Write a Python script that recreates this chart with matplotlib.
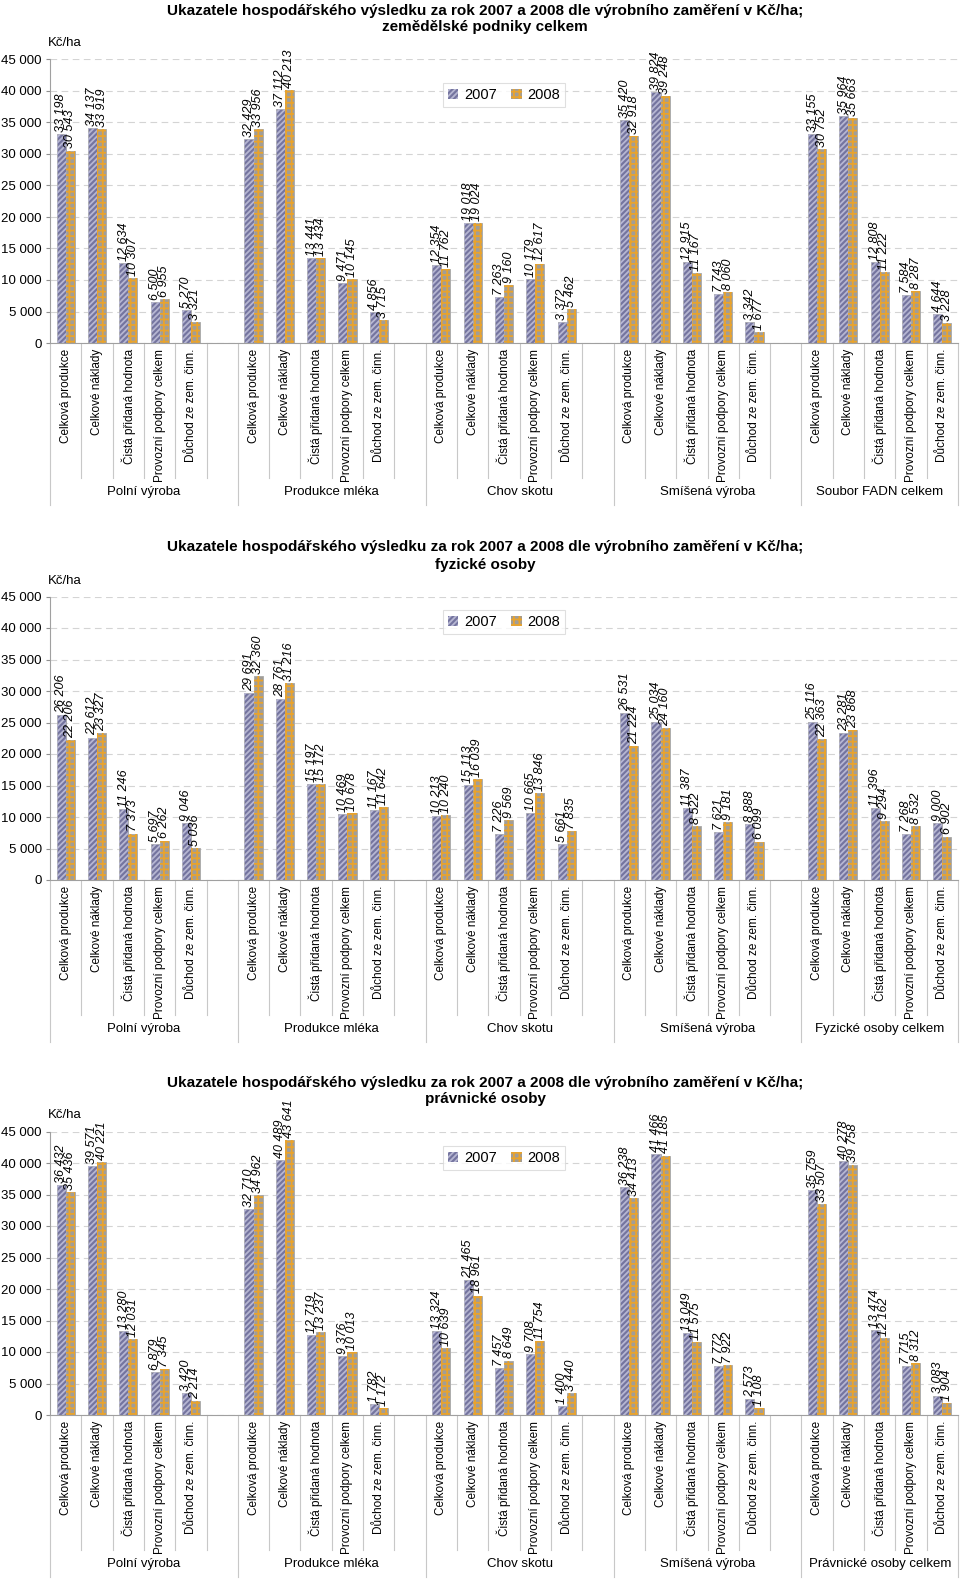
import numpy as np
import matplotlib
matplotlib.use("Agg")
import matplotlib.pyplot as plt
from matplotlib.patches import Patch
from matplotlib.ticker import FuncFormatter, MultipleLocator

plt.rcParams["font.family"] = ["Liberation Sans", "DejaVu Sans"]
plt.rcParams["hatch.linewidth"] = 1.3

# ── data ──────────────────────────────────────────────────────────────────────
kategorie = ["Celková produkce", "Celkové náklady", "Čistá přidaná hodnota",
             "Provozní podpory celkem", "Důchod ze zem. činn."]
zamereni = ["Polní výroba", "Produkce mléka", "Chov skotu", "Smíšená výroba"]

tituly = ["zemědělské podniky celkem", "fyzické osoby", "právnické osoby"]
celkem = ["Soubor FADN celkem", "Fyzické osoby celkem", "Právnické osoby celkem"]

zem_2007 = [33198, 34137, 12634, 6500, 5270,
            32429, 37112, 13441, 9471, 4856,
            12354, 19018, 7263, 10179, 3372,
            35420, 39824, 12915, 7743, 3342,
            33155, 35964, 12808, 7584, 4644]
zem_2008 = [30543, 33919, 10307, 6955, 3321,
            33956, 40213, 13434, 10145, 3715,
            11762, 19024, 9160, 12617, 5462,
            32918, 39248, 11167, 8060, 1677,
            30752, 35663, 11222, 8287, 3228]

fyz_2007 = [26206, 22612, 11246, 5697, 9046,
            29691, 28761, 15197, 10469, 11167,
            10213, 15113, 7226, 10665, 5661,
            26531, 25034, 11387, 7621, 8888,
            25116, 23281, 11396, 7268, 9000]
fyz_2008 = [22206, 23327, 7373, 6262, 5036,
            32360, 31216, 15172, 10678, 11642,
            10240, 16039, 9569, 13846, 7835,
            21224, 24160, 8522, 9181, 6099,
            22363, 23868, 9294, 8532, 6902]

prav_2007 = [36432, 39571, 13280, 6879, 3420,
             32710, 40489, 12719, 9376, 1782,
             13324, 21465, 7457, 9708, 1400,
             36238, 41466, 13049, 7772, 2573,
             35759, 40278, 13474, 7715, 3083]
prav_2008 = [35436, 40221, 12031, 7345, 2214,
             34962, 43641, 13237, 10013, 1172,
             10639, 18961, 8649, 11754, 3440,
             34413, 41185, 11575, 7922, 1108,
             33507, 39758, 12162, 8312, 1904]

panely = [(zem_2007, zem_2008), (fyz_2007, fyz_2008), (prav_2007, prav_2008)]

# ── styl ──────────────────────────────────────────────────────────────────────
W, H = 960, 1579
c07, h07 = "#74749f", "#b6b6d2"
c08, h08 = "#a19d97", "#e8a32e"
sep_col = "#c8c8c8"
nula_px = [343, 880, 1415]      # y pixel osy 0
vyska_px = 283.5
leg_top = [0.942, 0.978, 0.974]

fmt = lambda v: f"{int(v):,}".replace(",", " ")

fig = plt.figure(figsize=(W / 100, H / 100), dpi=100)

for p, (v07, v08) in enumerate(panely):
    z = nula_px[p]
    top = z - vyska_px
    ax = fig.add_axes([50 / W, 1 - z / H, 908 / W, vyska_px / H])

    # pozice sloupcu: 5 kategorii + 1 prazdny slot ve skupine
    x = np.array([g * 6 + k + 0.5 for g in range(5) for k in range(5)])
    bw = 0.29
    for xs, vals, c, hc, hat in [(x - bw / 2, v07, c07, h07, "//////"),
                                 (x + bw / 2, v08, c08, h08, "|||---")]:
        ax.bar(xs, vals, bw, color=c, edgecolor="#a8a8a8", lw=0.6, zorder=2)
        ax.bar(xs, vals, bw, color="none", edgecolor=hc, hatch=hat, lw=0, zorder=3)
        for xi, v in zip(xs, vals):
            ax.annotate(fmt(v), (xi, v), xytext=(0, 1.5), textcoords="offset points",
                        rotation=90, ha="center", va="bottom", fontsize=9,
                        style="italic", zorder=4)

    ax.set_xlim(0, 29)
    ax.set_ylim(0, 45000)
    ax.yaxis.set_major_locator(MultipleLocator(5000))
    ax.yaxis.set_major_formatter(FuncFormatter(lambda v, _: fmt(v)))
    ax.tick_params(axis="y", labelsize=9.5, length=3, color="#909090", pad=3)
    ax.set_xticks([])
    ax.grid(axis="y", color="#d4d4d4", ls=(0, (6, 4)), lw=0.8, zorder=0)
    for s in ["top", "right"]:
        ax.spines[s].set_visible(False)
    for s in ["left", "bottom"]:
        ax.spines[s].set_color("#a0a0a0")

    # oddelovace kategorii a skupin (odsazeni v px pod osou 0)
    tr = ax.get_xaxis_transform()
    kratka = -135 / vyska_px
    dlouha = -162 / vyska_px
    for k in range(30):
        y0 = dlouha if k in (0, 6, 12, 18, 24, 29) else kratka
        ax.plot([k, k], [0, y0], transform=tr, color=sep_col, lw=0.8, clip_on=False)

    for xi, lab in zip(x, kategorie * 5):
        ax.text(xi, -6 / vyska_px, lab, transform=tr, rotation=90, ha="center",
                va="top", fontsize=8.5)
    skupiny = zamereni + [celkem[p]]
    for g, lab in enumerate(skupiny):
        xc = g * 6 + 3 if g < 4 else 26.5
        ax.text(xc, -149 / vyska_px, lab, transform=tr, ha="center",
                va="center", fontsize=9.5)

    # titulek a jednotky
    fig.text(485 / W, 1 - (top - 49) / H,
             "Ukazatele hospodářského výsledku za rok 2007 a 2008 dle výrobního "
             "zaměření v Kč/ha;",
             ha="center", va="center", fontsize=11, fontweight="bold")
    fig.text(485 / W, 1 - (top - 32) / H, tituly[p],
             ha="center", va="center", fontsize=11, fontweight="bold")
    fig.text(48 / W, 1 - (top - 16) / H, "Kč/ha", ha="left", va="center",
             fontsize=9.5)

    handles = [Patch(facecolor=c07, edgecolor=h07, hatch="//////", lw=0, label="2007"),
               Patch(facecolor=c08, edgecolor=h08, hatch="|||---", lw=0, label="2008")]
    leg = ax.legend(handles=handles, loc="upper center",
                    bbox_to_anchor=(0.5, leg_top[p]), ncol=2, fontsize=10.5,
                    frameon=True, fancybox=False, handlelength=0.7,
                    handleheight=0.7, handletextpad=0.4, columnspacing=1.0,
                    borderpad=0.35)
    leg.get_frame().set_edgecolor("#d8d8d8")
    leg.get_frame().set_linewidth(0.8)

fig.savefig("out.png", dpi=100)
plt.close()
